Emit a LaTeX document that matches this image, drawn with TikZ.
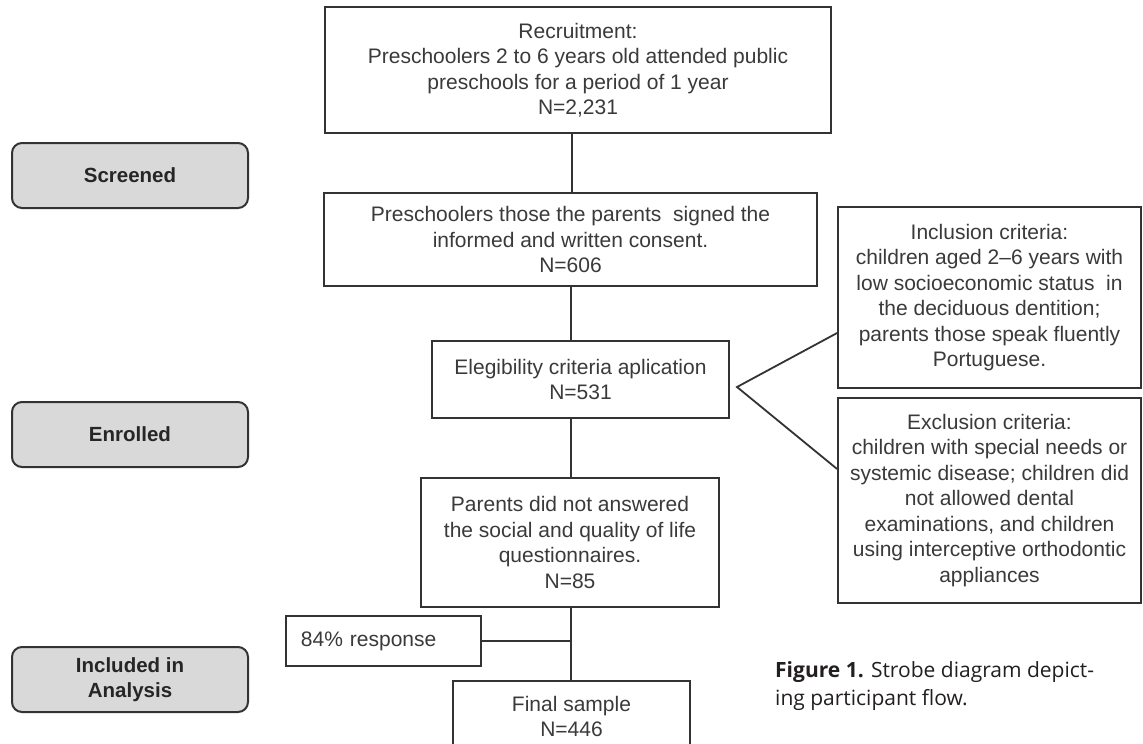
\documentclass[tikz,border=0pt]{standalone}
\usepackage{fontspec}
\setmainfont{Liberation Sans}
\newfontfamily\capfont{Open Sans}
\definecolor{textgray}{HTML}{3A3A3A}
\definecolor{linegray}{HTML}{333333}
\definecolor{phasefill}{HTML}{D9D9D9}
\definecolor{capcol}{HTML}{231F20}
\begin{document}
\begin{tikzpicture}[x=1pt,y=-1pt,
  box/.style={draw=linegray, line width=1.8pt, fill=white, align=center, inner sep=0pt,
    text=textgray, font=\fontsize{21}{25.5}\selectfont},
  phase/.style={draw=linegray, line width=2pt, fill=phasefill, rounded corners=10pt,
    align=center, inner sep=0pt, text=black!85,
    font=\bfseries\fontsize{20.5}{25.5}\selectfont,
    minimum width=236pt, minimum height=65pt},
  conn/.style={draw=linegray, line width=1.8pt}]
\useasboundingbox (0,0) rectangle (1143,744);
\clip (0,0) rectangle (1143,744);
\fill[white] (0,0) rectangle (1143,744);

% phase labels
\node[phase] (scr) at (130,175.5) {Screened};
\node[phase] (enr) at (130,434.5) {Enrolled};
\node[phase] (inc) at (130,679.5) {Included in\\Analysis};

% main flow boxes
\node[box, minimum width=506pt, minimum height=126pt] (rec) at (578,70)
  {Recruitment:\\Preschoolers 2 to 6 years old attended public\\preschools for a period of 1 year\\N=2,231};
\node[box, minimum width=493pt, minimum height=93pt] (cons) at (570.5,239.5)
  {Preschoolers those the parents\ \ signed the\\informed and written consent.\\N=606};
\node[box, minimum width=297pt, minimum height=77pt] (elig) at (580.5,379.5)
  {Elegibility criteria aplication\\N=531};
\node[box, minimum width=298pt, minimum height=129pt] (nores) at (570,542.5)
  {Parents did not answered\\the social and quality of life\\questionnaires.\\N=85};
\node[box, anchor=west, text width=165pt, inner xsep=15pt, align=left,
  minimum height=50pt] (resp) at (285,641) {84\% response};
\node[box, minimum width=237pt, minimum height=71pt] (final) at (571.5,716.5)
  {Final sample\\N=446};

% criteria boxes
\node[box, minimum width=303pt, minimum height=181pt] (incl) at (989.5,297.5)
  {Inclusion criteria:\\children aged 2--6 years with\\low socioeconomic status\ \ in\\the deciduous dentition;\\parents those speak fluently\\Portuguese.};
\node[box, minimum width=303pt, minimum height=205pt] (excl) at (989.5,500.5)
  {Exclusion criteria:\\children with special needs or\\systemic disease; children did\\not allowed dental\\examinations, and children\\using interceptive orthodontic\\appliances};

% connectors
\draw[conn] (rec.south -| 572,0) -- (cons.north -| 572,0);
\draw[conn] (cons.south -| 571,0) -- (elig.north -| 571,0);
\draw[conn] (elig.south -| 571,0) -- (nores.north -| 571,0);
\draw[conn] (nores.south -| 571,0) -- (final.north -| 571,0);
\draw[conn] (resp.east) -- (resp.east -| 571,0);
\coordinate (apex) at (737,387);
\draw[conn] (incl.west |- 0,333) -- (apex) -- (excl.west |- 0,469);

% caption
\node[anchor=west, align=left, inner sep=0pt, text=capcol,
  font=\capfont\fontsize{21}{28}\selectfont] (cap) at (775,686)
  {{\bfseries Figure 1.} Strobe diagram depict-\\ing participant flow.};
\end{tikzpicture}
\end{document}
